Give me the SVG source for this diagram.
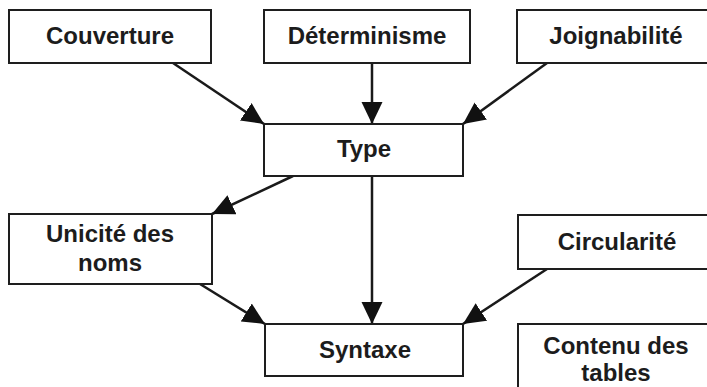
<svg xmlns="http://www.w3.org/2000/svg" width="707" height="387" viewBox="0 0 707 387">
  <style>
    .box { fill: #ffffff; stroke: #1e1e1e; stroke-width: 2; }
    .lbl { font-family: "Liberation Sans", Arial, sans-serif; font-weight: bold; font-size: 24px; fill: #1c1c1c; text-anchor: middle; }
    .edge { stroke: #1a1a1a; stroke-width: 2.5; fill: none; marker-end: url(#arrow); }
  </style>
  <defs>
    <marker id="arrow" markerUnits="userSpaceOnUse" markerWidth="24" markerHeight="22" refX="22" refY="10.5" orient="auto">
      <path d="M0,0 L22,10.5 L0,21 Z" fill="#111111"/>
    </marker>
  </defs>
  <rect width="707" height="387" fill="#ffffff"/>

  <!-- connectors -->
  <g id="connectors">
    <line class="edge" x1="173" y1="63" x2="264" y2="124"/>
    <line class="edge" x1="372" y1="63" x2="372" y2="124"/>
    <line class="edge" x1="547" y1="63" x2="463" y2="124"/>
    <line class="edge" x1="293" y1="176" x2="212" y2="214"/>
    <line class="edge" x1="372" y1="176" x2="372" y2="324"/>
    <line class="edge" x1="200" y1="284" x2="265" y2="324"/>
    <line class="edge" x1="547" y1="269" x2="463" y2="324"/>
  </g>

  <!-- nodes -->
  <g id="couverture">
    <rect class="box" x="9" y="10" width="202" height="53"/>
    <text class="lbl" x="110" y="44">Couverture</text>
  </g>
  <g id="determinisme">
    <rect class="box" x="264" y="10" width="206" height="53"/>
    <text class="lbl" x="367" y="44">Déterminisme</text>
  </g>
  <g id="joignabilite">
    <rect class="box" x="517" y="10" width="200" height="53"/>
    <text class="lbl" x="616" y="44">Joignabilité</text>
  </g>
  <g id="type">
    <rect class="box" x="264" y="124" width="199" height="52"/>
    <text class="lbl" x="364" y="157">Type</text>
  </g>
  <g id="unicite">
    <rect class="box" x="9" y="214" width="203" height="70"/>
    <text class="lbl" x="110" y="242">Unicité des</text>
    <text class="lbl" x="110" y="271">noms</text>
  </g>
  <g id="circularite">
    <rect class="box" x="518" y="215" width="200" height="54"/>
    <text class="lbl" x="617" y="250">Circularité</text>
  </g>
  <g id="syntaxe">
    <rect class="box" x="265" y="324" width="198" height="52"/>
    <text class="lbl" x="365" y="358">Syntaxe</text>
  </g>
  <g id="contenu">
    <rect class="box" x="518" y="324" width="200" height="80"/>
    <text class="lbl" x="616" y="354">Contenu des</text>
    <text class="lbl" x="616" y="381">tables</text>
  </g>
</svg>
